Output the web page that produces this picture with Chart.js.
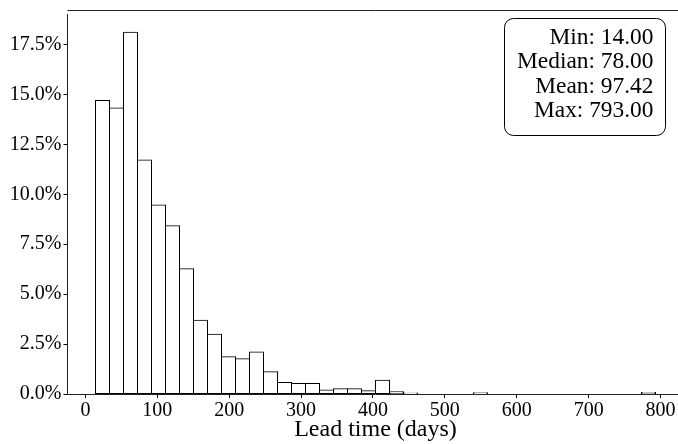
<!DOCTYPE html>
<html>
<head>
<meta charset="utf-8">
<script src="https://cdn.jsdelivr.net/npm/chart.js@4.4.1/dist/chart.umd.min.js"></script>
<style>
  html, body { margin: 0; padding: 0; background: #fff; overflow: hidden; }
  #wrap { width: 686px; height: 444px; position: relative; }
</style>
</head>
<body>
<div id="wrap"><canvas id="canvas1"></canvas></div>
<script>
// Lead time histogram: share of orders per bin (percent), 40 equal bins between min and max
var minDays = 14;
var maxDays = 793;
var binCount = 40;
var shares = [
    14.70, 14.32, 18.12, 11.72, 9.47, 8.43, 6.27, 3.69, 2.99, 1.87,
    1.77, 2.10, 1.11, 0.58, 0.53, 0.53, 0.20, 0.26, 0.26, 0.16,
    0.69, 0.11, 0.05, 0, 0, 0, 0, 0.06, 0, 0,
    0, 0, 0, 0, 0, 0, 0, 0, 0, 0.07
];
var xTicks = [0, 100, 200, 300, 400, 500, 600, 700, 800];
var yTicks = [0, 2.5, 5, 7.5, 10, 12.5, 15, 17.5];
var statLines = ["Min: 14.00", "Median: 78.00", "Mean: 97.42", "Max: 793.00"];

var binWidth = (maxDays - minDays) / binCount;
var points = shares.map(function (v, i) {
    return { x: minDays + (i + 0.5) * binWidth, y: v };
});

var serif = "'Liberation Serif', 'Times New Roman', serif";

// top spine + stats box in the upper right corner
var extras = {
    id: 'extras',
    afterDraw: function (chart) {
        var c = chart.ctx, a = chart.chartArea;
        c.save();
        c.strokeStyle = '#222';
        c.lineWidth = 1;
        c.beginPath();
        c.moveTo(a.left, 10.5);
        c.lineTo(a.right, 10.5);
        c.stroke();

        var bx = 504.5, by = 18.5, bw = 161, bh = 117, r = 9;
        c.beginPath();
        c.roundRect(bx, by, bw, bh, r);
        c.fillStyle = '#fff';
        c.fill();
        c.strokeStyle = '#000';
        c.stroke();

        c.fillStyle = '#000';
        c.font = '23.4px ' + serif;
        c.textAlign = 'right';
        c.textBaseline = 'middle';
        statLines.forEach(function (t, i) {
            c.fillText(t, 653.5, 38 + i * 24.3);
        });
        c.restore();
    }
};

var ctx1 = document.getElementById('canvas1').getContext('2d');
var myChart1 = new Chart(ctx1, {
    type: 'bar',
    data: {
        datasets: [{
            data: points,
            backgroundColor: '#fff',
            borderColor: '#000',
            borderWidth: 1,
            borderSkipped: false,
            // half-pixel inflate so neighbouring bars share one edge line
            inflateAmount: 0.5,
            barPercentage: 1,
            categoryPercentage: 1
        }]
    },
    options: {
        responsive: true,
        maintainAspectRatio: false,
        animation: false,
        layout: { padding: { top: 10, right: 2.5, left: 0, bottom: 0 } },
        plugins: { legend: { display: false }, tooltip: { enabled: false } },
        scales: {
            x: {
                type: 'linear',
                offset: false,
                min: -24.95,
                max: 831.95,
                afterBuildTicks: function (s) { s.ticks = xTicks.map(function (v) { return { value: v }; }); },
                afterFit: function (s) { s.height = 50; },
                grid: { offset: false, drawOnChartArea: false, tickLength: 4, color: '#000', tickColor: '#000' },
                border: { color: '#222', width: 1 },
                ticks: { color: '#000', padding: 1, maxRotation: 0, font: { family: serif, size: 20 } },
                title: {
                    display: true,
                    text: 'Lead time (days)',
                    color: '#000',
                    padding: { top: 0, bottom: 0 },
                    font: { family: serif, size: 24 }
                }
            },
            y: {
                min: 0,
                max: 19.03,
                afterBuildTicks: function (s) { s.ticks = yTicks.map(function (v) { return { value: v }; }); },
                afterFit: function (s) { s.width = 67.5; },
                grid: { drawOnChartArea: false, tickLength: 4, color: '#000', tickColor: '#000' },
                border: { color: '#222', width: 1 },
                ticks: {
                    color: '#000',
                    padding: 2,
                    font: { family: serif, size: 20 },
                    callback: function (v) { return v.toFixed(1) + '%'; }
                }
            }
        }
    },
    plugins: [extras]
});
</script>
</body>
</html>
